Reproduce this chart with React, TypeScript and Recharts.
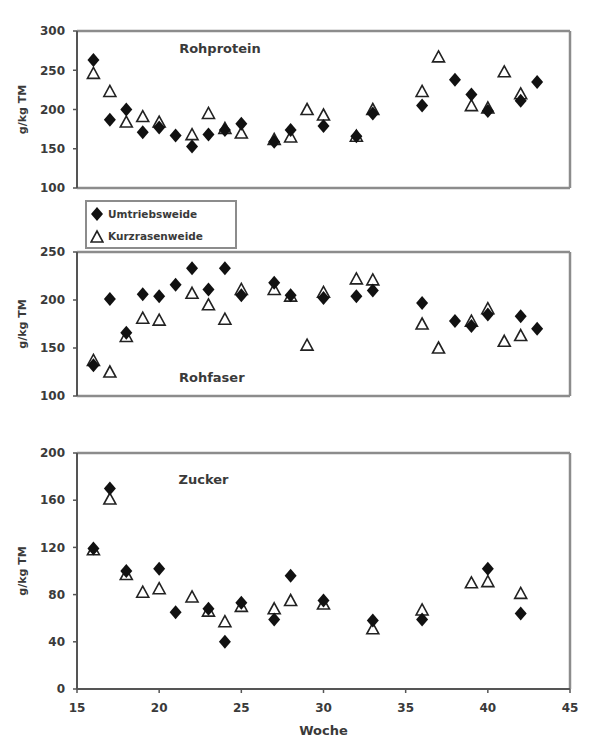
import {
  ScatterChart,
  Scatter,
  XAxis,
  YAxis,
  ReferenceLine,
  ReferenceDot,
} from "recharts";

// Rohprotein (g/kg TM)
const protUmWeeks = [16, 17, 18, 19, 20, 21, 22, 23, 24, 25, 27, 28, 30, 32, 33, 36, 38, 39, 40, 42, 43];
const protUm = [263, 187, 200, 171, 177, 167, 153, 168, 174, 182, 159, 174, 179, 166, 195, 205, 238, 219, 198, 211, 235];
const protKzWeeks = [16, 17, 18, 19, 20, 22, 23, 24, 25, 27, 28, 29, 30, 32, 33, 36, 37, 39, 40, 41, 42];
const protKz = [246, 223, 184, 191, 184, 168, 195, 176, 170, 162, 165, 200, 193, 166, 200, 223, 267, 205, 202, 248, 220];

// Rohfaser
const fibUmWeeks = protUmWeeks;
const fibUm = [132, 201, 166, 206, 204, 216, 233, 211, 233, 205, 218, 205, 202, 204, 210, 197, 178, 173, 185, 183, 170];
const fibKzWeeks = protKzWeeks;
const fibKz = [137, 125, 162, 181, 179, 207, 195, 180, 211, 211, 204, 153, 208, 222, 221, 175, 150, 178, 191, 157, 163];

// Zucker
const sugUmWeeks = [16, 17, 18, 20, 21, 23, 24, 25, 27, 28, 30, 33, 36, 40, 42];
const sugUm = [119, 170, 100, 102, 65, 68, 40, 73, 59, 96, 75, 58, 59, 102, 64];
const sugKzWeeks = [16, 17, 18, 19, 20, 22, 23, 24, 25, 27, 28, 30, 33, 36, 39, 40, 42];
const sugKz = [118, 161, 97, 82, 85, 78, 66, 57, 70, 68, 75, 72, 51, 67, 90, 91, 81];

const xTicks = [15, 20, 25, 30, 35, 40, 45];
const protTicks = [100, 150, 200, 250, 300];
const fibTicks = [100, 150, 200, 250];
const sugTicks = [0, 40, 80, 120, 160, 200];

const seriesNames = ["Umtriebsweide", "Kurzrasenweide"];

const FONT = "'DejaVu Sans', Arial, sans-serif";
const TXT = "#3a3a3a";
const FRAME = "#8c8c8c";
const AXIS = "#555";

const pts = (w: number[], v: number[]) => w.map((x, i) => ({ x, y: v[i] }));

const Diamond = (p: any) => (
  <polygon
    points={`${p.cx},${p.cy - 7} ${p.cx + 6},${p.cy} ${p.cx},${p.cy + 7} ${p.cx - 6},${p.cy}`}
    fill="#111"
  />
);

const Triangle = (p: any) => (
  <polygon
    points={`${p.cx},${p.cy - 6} ${p.cx + 6},${p.cy + 5} ${p.cx - 6},${p.cy + 5}`}
    fill="none"
    stroke="#222"
    strokeWidth={1.6}
  />
);

const tickStyle = { fontSize: 12, fontWeight: 700, fill: TXT, fontFamily: FONT };

function Panel({
  top,
  height,
  margin,
  domain,
  ticks,
  um,
  kz,
  title,
  titleAt,
  showX,
}: {
  top: number;
  height: number;
  margin: { top: number; right: number; bottom: number; left: number };
  domain: [number, number];
  ticks: number[];
  um: { x: number; y: number }[];
  kz: { x: number; y: number }[];
  title: string;
  titleAt: [number, number];
  showX?: boolean;
}) {
  return (
    <div style={{ position: "absolute", left: 0, top, width: 589, height }}>
      <ScatterChart width={589} height={height} margin={margin}>
        <XAxis
          type="number"
          dataKey="x"
          domain={[15, 45]}
          ticks={xTicks}
          hide={!showX}
          height={48}
          tick={tickStyle}
          tickSize={4}
          tickMargin={10}
          axisLine={{ stroke: AXIS, strokeWidth: 2 }}
          tickLine={{ stroke: AXIS, strokeWidth: 1.5 }}
          label={{
            value: "Woche",
            position: "insideBottom",
            offset: 2,
            style: { ...tickStyle, fontSize: 13 },
          }}
        />
        <YAxis
          type="number"
          dataKey="y"
          domain={domain}
          ticks={ticks}
          width={72}
          tick={tickStyle}
          tickSize={4}
          tickMargin={8}
          axisLine={{ stroke: AXIS, strokeWidth: 2 }}
          tickLine={{ stroke: AXIS, strokeWidth: 1.5 }}
          label={{
            value: "g/kg TM",
            angle: -90,
            position: "insideLeft",
            offset: 17,
            style: { ...tickStyle, fontSize: 11, textAnchor: "middle" },
          }}
        />
        <ReferenceLine y={domain[1]} stroke={FRAME} strokeWidth={2.5} />
        {!showX && <ReferenceLine y={domain[0]} stroke={FRAME} strokeWidth={2.5} />}
        <ReferenceLine x={45} stroke={FRAME} strokeWidth={2.5} />
        <ReferenceDot
          x={titleAt[0]}
          y={titleAt[1]}
          r={0}
          fill="none"
          stroke="none"
          label={{ value: title, position: "center", style: { ...tickStyle, fontSize: 13 } }}
        />
        <Scatter name={seriesNames[1]} data={kz} shape={Triangle} isAnimationActive={false} />
        <Scatter name={seriesNames[0]} data={um} shape={Diamond} isAnimationActive={false} />
      </ScatterChart>
    </div>
  );
}

function LegendBox() {
  const row = { display: "flex", alignItems: "center", height: 22 };
  const txt = { fontFamily: FONT, fontSize: 10.5, fontWeight: 700, color: TXT, marginLeft: 4 };
  return (
    <div
      style={{
        position: "absolute",
        left: 85,
        top: 200,
        width: 145,
        height: 44,
        border: `2px solid ${FRAME}`,
        background: "#fff",
        padding: "1px 0 0 3px",
        boxSizing: "content-box",
      }}
    >
      <div style={row}>
        <svg width={14} height={14}>
          <Diamond cx={7} cy={7} />
        </svg>
        <span style={txt}>{seriesNames[0]}</span>
      </div>
      <div style={row}>
        <svg width={14} height={14}>
          <Triangle cx={7} cy={8} />
        </svg>
        <span style={txt}>{seriesNames[1]}</span>
      </div>
    </div>
  );
}

export default function App() {
  return (
    <div style={{ position: "absolute", left: 0, top: 0, width: 589, height: 752, background: "#fff" }}>
      <Panel
        top={0}
        height={200}
        margin={{ top: 31, right: 19, bottom: 12, left: 5 }}
        domain={[100, 300]}
        ticks={protTicks}
        um={pts(protUmWeeks, protUm)}
        kz={pts(protKzWeeks, protKz)}
        title="Rohprotein"
        titleAt={[23.7, 278]}
      />
      <Panel
        top={200}
        height={210}
        margin={{ top: 52, right: 19, bottom: 14, left: 5 }}
        domain={[100, 250]}
        ticks={fibTicks}
        um={pts(fibUmWeeks, fibUm)}
        kz={pts(fibKzWeeks, fibKz)}
        title="Rohfaser"
        titleAt={[23.2, 119]}
      />
      <Panel
        top={410}
        height={342}
        margin={{ top: 43, right: 19, bottom: 15, left: 5 }}
        domain={[0, 200]}
        ticks={sugTicks}
        um={pts(sugUmWeeks, sugUm)}
        kz={pts(sugKzWeeks, sugKz)}
        title="Zucker"
        titleAt={[22.7, 178]}
        showX
      />
      <LegendBox />
    </div>
  );
}
